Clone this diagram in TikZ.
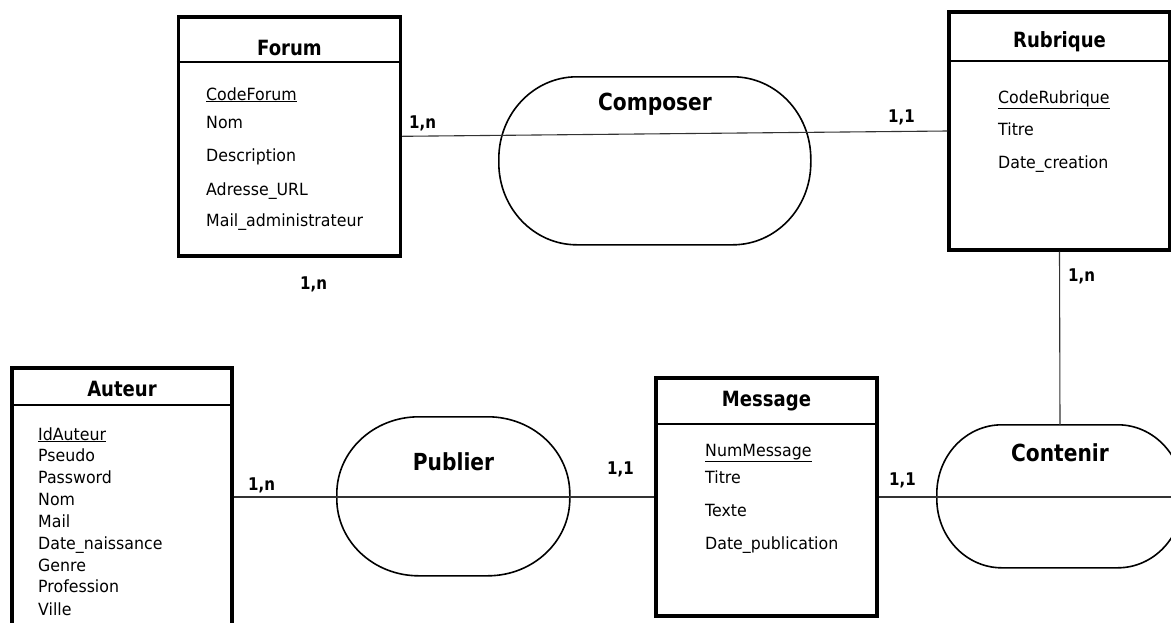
\documentclass[tikz,border=0pt]{standalone}
\usepackage{fontspec}
\setmainfont{DejaVu Sans}
\newfontfamily\narrowfont[FakeStretch=0.86]{DejaVu Sans}
\newfontfamily\attrfont[FakeStretch=0.94]{DejaVu Sans}
\begin{document}
\begin{tikzpicture}[x=1pt,y=-1pt,
  entity/.style={draw=black, line width=3.4pt, rectangle, inner sep=0pt},
  relation/.style={rectangle, inner sep=0pt},
  outline/.style={draw=black, line width=1.6pt},
  sep/.style={draw=black, line width=1.5pt},
  link/.style={draw=black!80, line width=1.1pt},
  etitle/.style={anchor=base, inner sep=0pt, font=\narrowfont\fontsize{21}{24}\selectfont\bfseries},
  rtitle/.style={anchor=base, inner sep=0pt, font=\narrowfont\fontsize{23.5}{27}\selectfont\bfseries},
  attr/.style={anchor=base west, inner sep=0pt, font=\attrfont\fontsize{16.8}{19}\selectfont},
  card/.style={anchor=base west, inner sep=0pt, font=\narrowfont\fontsize{17.5}{20}\selectfont\bfseries}]
\useasboundingbox (0,0) rectangle (1171,622);

% oval outline of a relation: #1 node, #2 x radius, #3 y radius, #4 flat width, #5 flat height
\newcommand\relationoutline[5]{%
  \draw[outline] ([xshift=#2pt]#1.north west) -- ++(#4pt,0pt)
    arc[start angle=90, end angle=0, x radius=#2pt, y radius=#3pt] -- ++(0pt,-#5pt)
    arc[start angle=0, end angle=-90, x radius=#2pt, y radius=#3pt] -- ++(-#4pt,0pt)
    arc[start angle=-90, end angle=-180, x radius=#2pt, y radius=#3pt] -- ++(0pt,#5pt)
    arc[start angle=180, end angle=90, x radius=#2pt, y radius=#3pt] -- cycle;}

% ---------------- entities ----------------
\node[entity, minimum width=222pt, minimum height=239pt] (forum) at (289.5,136.3) {};
\node[entity, minimum width=221pt, minimum height=238pt] (rubrique) at (1059.5,131) {};
\node[entity, minimum width=220pt, minimum height=340pt] (auteur) at (122,538) {};
\node[entity, minimum width=221pt, minimum height=238pt] (message) at (766.5,497) {};

% header separators
\draw[sep] (forum.west |- 0,62) coordinate (fh1) -- (forum.east |- 0,62) coordinate (fh2);
\draw[sep] (rubrique.west |- 0,61) coordinate (rh1) -- (rubrique.east |- 0,61) coordinate (rh2);
\draw[sep] (auteur.west |- 0,405) coordinate (ah1) -- (auteur.east |- 0,405) coordinate (ah2);
\draw[sep] (message.west |- 0,424) coordinate (mh1) -- (message.east |- 0,424) coordinate (mh2);

% Forum
\node[etitle] (forumT) at (289.5,55) {Forum};
\node[attr] (f1) at (206,100) {\underline{CodeForum}};
\node[attr] (f2) at (206,128.3) {Nom};
\node[attr] (f3) at (206,161.7) {Description};
\node[attr] (f4) at (206,195) {Adresse\_URL};
\node[attr] (f5) at (206,226.7) {Mail\_administrateur};

% Rubrique
\node[etitle] (rubriqueT) at (1059.5,47.7) {Rubrique};
\node[attr] (r1) at (998,103) {\underline{CodeRubrique}};
\node[attr] (r2) at (998,135) {Titre};
\node[attr] (r3) at (998,168) {Date\_creation};

% Auteur
\node[etitle] (auteurT) at (122,396) {Auteur};
\node[attr] (a1) at (38,440) {\underline{IdAuteur}};
\node[attr] (a2) at (38,461.7) {Pseudo};
\node[attr] (a3) at (38,483.3) {Password};
\node[attr] (a4) at (38,505.7) {Nom};
\node[attr] (a5) at (38,527.3) {Mail};
\node[attr] (a6) at (38,549.3) {Date\_naissance};
\node[attr] (a7) at (38,571) {Genre};
\node[attr] (a8) at (38,592.7) {Profession};
\node[attr] (a9) at (38,615) {Ville};

% Message
\node[etitle] (messageT) at (766.5,406.7) {Message};
\node[attr] (m1) at (705,456) {\underline{NumMessage}};
\node[attr] (m2) at (705,483) {Titre};
\node[attr] (m3) at (705,516) {Texte};
\node[attr] (m4) at (705,549) {Date\_publication};

% ---------------- relations ----------------
\node[relation, minimum width=312pt, minimum height=168pt] (composer) at (655,161) {};
\node[relation, minimum width=233pt, minimum height=159pt] (publier) at (453.5,496.5) {};
\node[relation, minimum width=246pt, minimum height=143pt] (contenir) at (1060,496.5) {};
\relationoutline{composer}{78}{82}{156}{4}
\relationoutline{publier}{82}{77}{69}{5}
\relationoutline{contenir}{65}{69}{116}{5}

\node[rtitle] (composerT) at (655,110.7) {Composer};
\node[rtitle] (publierT) at (453.5,470) {Publier};
\node[rtitle] (contenirT) at (1060,461) {Contenir};

% ---------------- links ----------------
\draw[link] (forum.east) -- (rubrique.west);
\draw[link] (message.west -| auteur.east) -- (message.west);
\draw[link] (message.east) -- (message.east -| contenir.east);
\draw[link] (rubrique.south) -- (contenir.north);

% ---------------- cardinalities ----------------
\node[card] (c1) at (409,128.3) {1,n};
\node[card] (c2) at (888,122.7) {1,1};
\node[card] (c3) at (1068,281.7) {1,n};
\node[card] (c4) at (300,289) {1,n};
\node[card] (c5) at (248,490) {1,n};
\node[card] (c6) at (607,474) {1,1};
\node[card] (c7) at (889,485) {1,1};
\end{tikzpicture}
\end{document}
